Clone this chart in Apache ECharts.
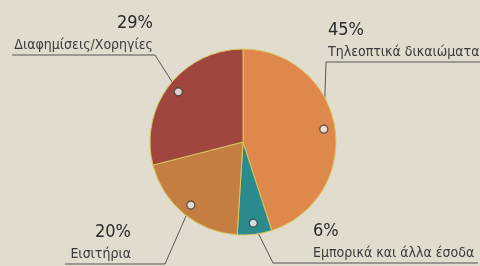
<!DOCTYPE html>
<html>
<head>
<meta charset="utf-8">
<script src="https://cdn.jsdelivr.net/npm/echarts@6/dist/echarts.min.js"></script>
<style>
  html, body { margin: 0; padding: 0; background: #e2dccf; }
  #chart { width: 480px; height: 266px; }
</style>
</head>
<body>
<div id="chart"></div>
<script>
var names = ['Τηλεοπτικά δικαιώματα', 'Εμπορικά και άλλα έσοδα', 'Εισιτήρια', 'Διαφημίσεις/Χορηγίες'];
var values = [45, 6, 20, 29];
var colors = ['#df884b', '#2b8b8c', '#c57e42', '#a0463f'];

var cx = 243, cy = 142, R = 93;
var dotRatio = 0.88;

// mid angle of each slice, in percent of the circle
var mids = [];
var total = values.reduce(function (a, b) { return a + b; }, 0);
var acc = 0;
for (var i = 0; i < values.length; i++) {
  mids.push((acc + values[i] / 2) / total * 100);
  acc += values[i];
}

// where each label sits and where its line runs
var labelPos = [
  { x: 328, y: 61, align: 'left', corner: [326, 62], end: 480 },
  { x: 313, y: 262, align: 'left', corner: [273, 263], end: 478 },
  { x: 131, y: 263, align: 'right', corner: [165, 264], end: 65 },
  { x: 153, y: 54, align: 'right', corner: [155, 55], end: 12 }
];

var font = "'DejaVu Sans Condensed', 'DejaVu Sans', sans-serif";

var chart = echarts.init(document.getElementById('chart'));
var option = {
  backgroundColor: '#e2dccf',
  animation: false,
  polar: { center: [cx, cy], radius: R },
  angleAxis: { type: 'value', min: 0, max: 100, startAngle: 90, clockwise: true, show: false },
  radiusAxis: { type: 'value', min: 0, max: 1, show: false },
  series: [
    {
      type: 'pie',
      center: [cx, cy],
      radius: R,
      startAngle: 90,
      clockwise: true,
      avoidLabelOverlap: false,
      data: names.map(function (n, i) {
        return { name: n, value: values[i], itemStyle: { color: colors[i] } };
      }),
      itemStyle: { borderColor: '#d8c75e', borderWidth: 1 },
      label: {
        position: 'outside',
        fontFamily: font,
        formatter: function (p) {
          return '{p|' + p.value + '%}\n{n|' + p.name + '}';
        },
        rich: {
          p: { fontSize: 18, fontFamily: font, color: '#2a2a2a', lineHeight: 25 },
          n: { fontSize: 14, fontFamily: font, color: '#3a3a3a', lineHeight: 18 }
        }
      },
      labelLine: { show: true, length: 10, length2: 10, lineStyle: { color: '#555', width: 1 } },
      labelLayout: function (params) {
        var lp = labelPos[params.dataIndex];
        var pts = params.labelLinePoints;
        var p0 = pts ? pts[0] : [cx, cy];
        var start = [cx + (p0[0] - cx) * dotRatio, cy + (p0[1] - cy) * dotRatio];
        return {
          x: lp.x,
          y: lp.y,
          align: lp.align,
          verticalAlign: 'bottom',
          labelLinePoints: [start, lp.corner, [lp.end, lp.corner[1]]]
        };
      },
      emphasis: { disabled: true }
    },
    {
      type: 'scatter',
      coordinateSystem: 'polar',
      symbol: 'circle',
      symbolSize: 8,
      itemStyle: { color: '#f4f2ee', borderColor: '#333', borderWidth: 1.2 },
      data: mids.map(function (m) { return [dotRatio, m]; }),
      z: 5
    }
  ]
};
chart.setOption(option);
</script>
</body>
</html>
